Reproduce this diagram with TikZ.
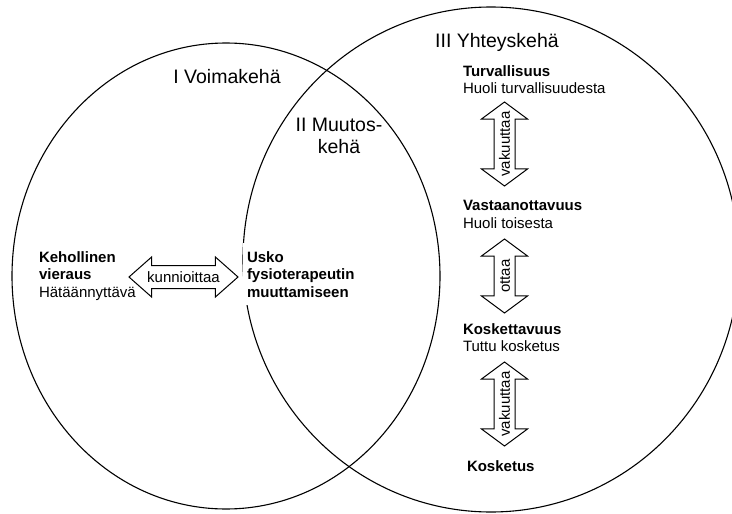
\documentclass[tikz,border=0pt]{standalone}
\usepackage{fontspec}
\setmainfont{Liberation Sans}
\usetikzlibrary{shapes.geometric,shapes.arrows}
\begin{document}
\begin{tikzpicture}[x=1pt,y=-1pt]
            \tikzstyle{every node}+=[inner sep=0pt, outer sep=0pt]
            \tikzstyle{keha}=[draw=black, line width=1.1pt, ellipse]
            \tikzstyle{nimi}=[font=\fontsize{19.5}{22}\selectfont, align=center]
            \tikzstyle{teksti}=[fill=white, inner xsep=4pt, inner ysep=8pt, align=left, anchor=north west, font=\fontsize{15}{17.5}\selectfont]
            \tikzstyle{nuoli}=[draw=black, line width=1pt, fill=white, double arrow]
            \tikzstyle{pystynuoli}=[nuoli, rotate=90, inner xsep=0pt, inner ysep=10pt, double arrow head extend=12.5pt, double arrow tip angle=107]
            \tikzstyle{vaakanuoli}=[nuoli, inner xsep=0pt, inner ysep=11pt, double arrow head extend=8.5pt, double arrow tip angle=83]
            \tikzstyle{nuoliteksti}=[font=\fontsize{15}{17.5}\selectfont, text height=10.7pt, text depth=0pt]
            \useasboundingbox (0,0) rectangle (732,514);
            \clip (0,0) rectangle (732,514);
            % kehät
            \node [keha, minimum width=428pt, minimum height=466pt] (voima) at (226,276) {};
            \node [keha, minimum width=496pt, minimum height=505pt] (yhteys) at (491,259.5) {};
            \node [nimi, anchor=base] (voimanimi) at (227,83) {I Voimakehä};
            \node [nimi, anchor=north] (muutosnimi) at (339,118) {II Muutos-\\kehä};
            \node [nimi, anchor=base] (yhteysnimi) at (497,47) {III Yhteyskehä};
            % tekstit
            \node [teksti] (kehollinen) at (35,243.3) {\textbf{Kehollinen}\\\textbf{vieraus}\\Hätäännyttävä};
            \node [teksti] (usko) at (243,243.3) {\textbf{Usko}\\\textbf{fysioterapeutin}\\\textbf{muuttamiseen}};
            \node [teksti] (turva) at (459,57.3) {\textbf{Turvallisuus}\\Huoli turvallisuudesta};
            \node [teksti] (vasta) at (459,192.3) {\textbf{Vastaanottavuus}\\Huoli toisesta};
            \node [teksti] (koske) at (459,315.3) {\textbf{Koskettavuus}\\Tuttu kosketus};
            \node [teksti] (kosketus) at (463,452.3) {\textbf{Kosketus}};
            % nuolet
            \node [vaakanuoli, minimum height=109pt] (kunnioitus) at (183.5,277) {};
            \node [nuoliteksti] (kunnioitusteksti) at (kunnioitus.center) {kunnioittaa};
            \node [pystynuoli, minimum height=84pt] (vakuutus1) at (504.5,144) {};
            \node [nuoliteksti, rotate=90] (vakuutus1teksti) at (vakuutus1.center) {vakuuttaa};
            \node [pystynuoli, minimum height=74pt] (otto) at (504.5,276) {};
            \node [nuoliteksti, rotate=90] (ottoteksti) at (otto.center) {ottaa};
            \node [pystynuoli, minimum height=84pt] (vakuutus2) at (504.5,404) {};
            \node [nuoliteksti, rotate=90] (vakuutus2teksti) at (vakuutus2.center) {vakuuttaa};
\end{tikzpicture}
\end{document}
